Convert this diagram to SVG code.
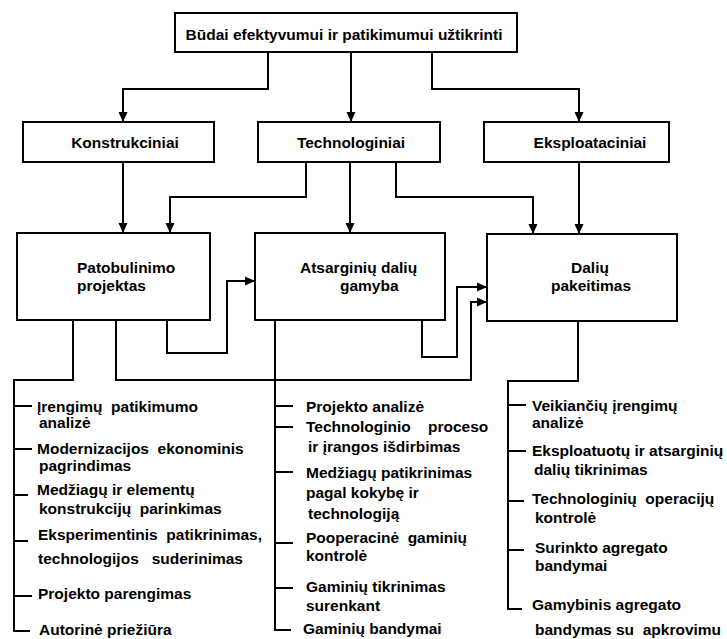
<svg xmlns="http://www.w3.org/2000/svg" width="727" height="639" viewBox="0 0 727 639">
<style>
text{font-family:"Liberation Sans",Arial,sans-serif;font-weight:bold;font-size:15.5px;fill:#000;white-space:pre}
.box{fill:#fff;stroke:#000;stroke-width:2}
.ln{fill:none;stroke:#000;stroke-width:2}
.ar{fill:none;stroke:#000;stroke-width:2;marker-end:url(#ah)}
.m{text-anchor:middle}
</style>
<defs>
<marker id="ah" markerUnits="userSpaceOnUse" markerWidth="10" markerHeight="10" refX="10" refY="5" orient="auto">
<path d="M0,0.5 L10,5 L0,9.5 z" fill="#000"/>
</marker>
</defs>
<rect width="727" height="639" fill="#fff"/>
<g id="connectors">
<path class="ar" d="M268,52 V89 H123 V122"/>
<path class="ar" d="M351,52 V122"/>
<path class="ar" d="M432,52 V89 H579 V122"/>
<path class="ar" d="M123,162 V233"/>
<path class="ar" d="M306,162 V197 H170 V233"/>
<path class="ar" d="M350,162 V233"/>
<path class="ar" d="M396,162 V197 H533 V234"/>
<path class="ar" d="M579,162 V234"/>
<path class="ar" d="M167,320 V353 H227 V281 H255"/>
<path class="ar" d="M422,320 V357 H457 V287 H487"/>
<path class="ar" d="M116,320 V380 H471 V302 H487"/>
<path class="ln" d="M73,320 V380 H14 V631 H30"/>
<path class="ln" d="M14,406 H32 M14,449 H32 M14,495 H28 M14,541 H28 M14,596 H32"/>
<path class="ln" d="M275,320 V630 H291"/>
<path class="ln" d="M275,406 H293 M275,427 H293 M275,472 H293 M275,543 H293 M275,588 H293"/>
<path class="ln" d="M578,321 V381 H508 V609 H522"/>
<path class="ln" d="M508,405 H526 M508,451 H526 M508,501 H524 M508,550 H524"/>
</g>
<g id="top">
<rect class="box" x="175" y="13" width="342" height="39"/>
<text class="m" x="344" y="39.5" xml:space="preserve">Būdai efektyvumui ir patikimumui užtikrinti</text>
</g>
<g id="konstrukciniai">
<rect class="box" x="23" y="122" width="191" height="40"/>
<text class="m" x="125" y="148">Konstrukciniai</text>
</g>
<g id="technologiniai">
<rect class="box" x="258" y="122" width="182" height="40"/>
<text class="m" x="351" y="148">Technologiniai</text>
</g>
<g id="eksploataciniai">
<rect class="box" x="484" y="122" width="185" height="40"/>
<text class="m" x="590" y="148">Eksploataciniai</text>
</g>
<g id="patobulinimo">
<rect class="box" x="17" y="233" width="193" height="87"/>
<text x="77" y="273">Patobulinimo</text>
<text x="77" y="291">projektas</text>
</g>
<g id="atsarginiu">
<rect class="box" x="255" y="233" width="190" height="87"/>
<text x="300" y="273">Atsarginių dalių</text>
<text x="340" y="291">gamyba</text>
</g>
<g id="daliu">
<rect class="box" x="487" y="234" width="190" height="87"/>
<text class="m" x="590" y="273">Dalių</text>
<text class="m" x="591" y="291">pakeitimas</text>
</g>
<g id="list-konstrukciniai">
<text x="37" y="412" xml:space="preserve">Įrengimų  patikimumo</text>
<text x="39" y="428">analizė</text>
<text x="37" y="454" xml:space="preserve">Modernizacijos  ekonominis</text>
<text x="39" y="471">pagrindimas</text>
<text x="37" y="495">Medžiagų ir elementų</text>
<text x="39" y="514" xml:space="preserve">konstrukcijų  parinkimas</text>
<text x="38" y="540" xml:space="preserve">Eksperimentinis  patikrinimas,</text>
<text x="38" y="564" xml:space="preserve">technologijos   suderinimas</text>
<text x="38" y="599">Projekto parengimas</text>
<text x="39" y="635">Autorinė priežiūra</text>
</g>
<g id="list-technologiniai">
<text x="306" y="412">Projekto analizė</text>
<text x="306" y="432" xml:space="preserve">Technologinio    proceso</text>
<text x="308" y="452">ir įrangos išdirbimas</text>
<text x="306" y="478">Medžiagų patikrinimas</text>
<text x="306" y="498">pagal kokybę ir</text>
<text x="308" y="519">technologiją</text>
<text x="306" y="543" xml:space="preserve">Pooperacinė  gaminių</text>
<text x="306" y="561">kontrolė</text>
<text x="306" y="592">Gaminių tikrinimas</text>
<text x="306" y="611">surenkant</text>
<text x="303" y="634">Gaminių bandymai</text>
</g>
<g id="list-eksploataciniai">
<text x="532" y="411">Veikiančių įrengimų</text>
<text x="532" y="428">analizė</text>
<text x="532" y="456">Eksploatuotų ir atsarginių</text>
<text x="534" y="475">dalių tikrinimas</text>
<text x="532" y="504" xml:space="preserve">Technologinių  operacijų</text>
<text x="535" y="523">kontrolė</text>
<text x="535" y="553">Surinkto agregato</text>
<text x="535" y="571">bandymai</text>
<text x="532" y="610">Gamybinis agregato</text>
<text x="535" y="635" xml:space="preserve">bandymas su  apkrovimu</text>
</g>
</svg>
